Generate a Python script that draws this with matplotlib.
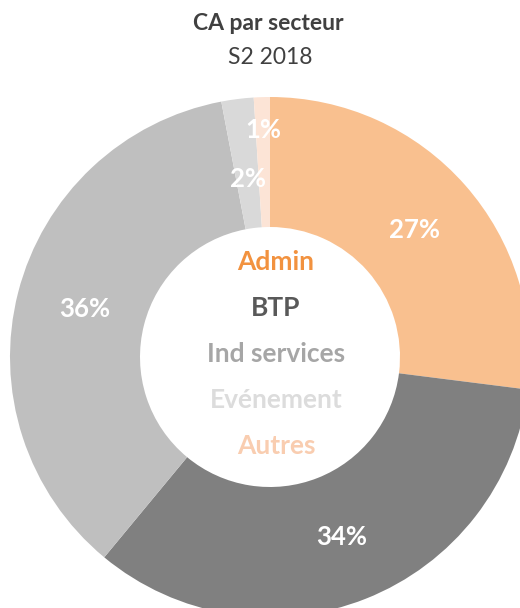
import matplotlib.pyplot as plt
import numpy as np

plt.rcParams['font.family'] = ['Lato', 'DejaVu Sans']

# Données
secteurs = ["Admin", "BTP", "Ind services", "Evénement", "Autres"]
parts = [27, 34, 36, 2, 1]
couleurs = ["#F9C08F", "#808080", "#BFBFBF", "#D9D9D9", "#FCE4D6"]
couleurs_texte = ["#F2923F", "#595959", "#A6A6A6", "#DCDCDC", "#F9CDB0"]
# distance des étiquettes (fraction du rayon)
dist_etiq = [0.74, 0.745, 0.735, 0.69, 0.875]

W, H = 520, 608
fig = plt.figure(figsize=(W / 100, H / 100), dpi=100)
ax = fig.add_axes([0, 0, 1, 1])

cx, cy = 270, H - 357
R = 260
wedges, _ = ax.pie(parts, colors=couleurs, startangle=90, counterclock=False,
                   radius=R, center=(cx, cy), frame=True,
                   wedgeprops=dict(width=R * 0.5, edgecolor='none'))
ax.set_xlim(0, W)
ax.set_ylim(0, H)
ax.set_aspect('equal')
ax.axis('off')

# Pourcentages
cum = np.cumsum([0] + parts)
for i, p in enumerate(parts):
    mid = (cum[i] + p / 2) / sum(parts) * 2 * np.pi
    x = cx + np.sin(mid) * R * dist_etiq[i]
    y = cy + np.cos(mid) * R * dist_etiq[i]
    ax.text(x, y, f"{p}%", color="white", fontsize=18.5, fontweight="bold",
            ha="center", va="center")

# Légende au centre
for i, s in enumerate(secteurs):
    ax.text(cx + 6, cy + 95 - i * 46, s, color=couleurs_texte[i], fontsize=19,
            fontweight="bold", ha="center", va="center")

# Titre
fig.text(268 / W, 1 - 24 / H, "CA par secteur", fontsize=16.5, fontweight="bold",
         color="#404040", ha="center", va="center")
fig.text(270 / W, 1 - 57 / H, "S2 2018", fontsize=16.5, color="#404040",
         ha="center", va="center")

plt.savefig("out.png", dpi=100)
